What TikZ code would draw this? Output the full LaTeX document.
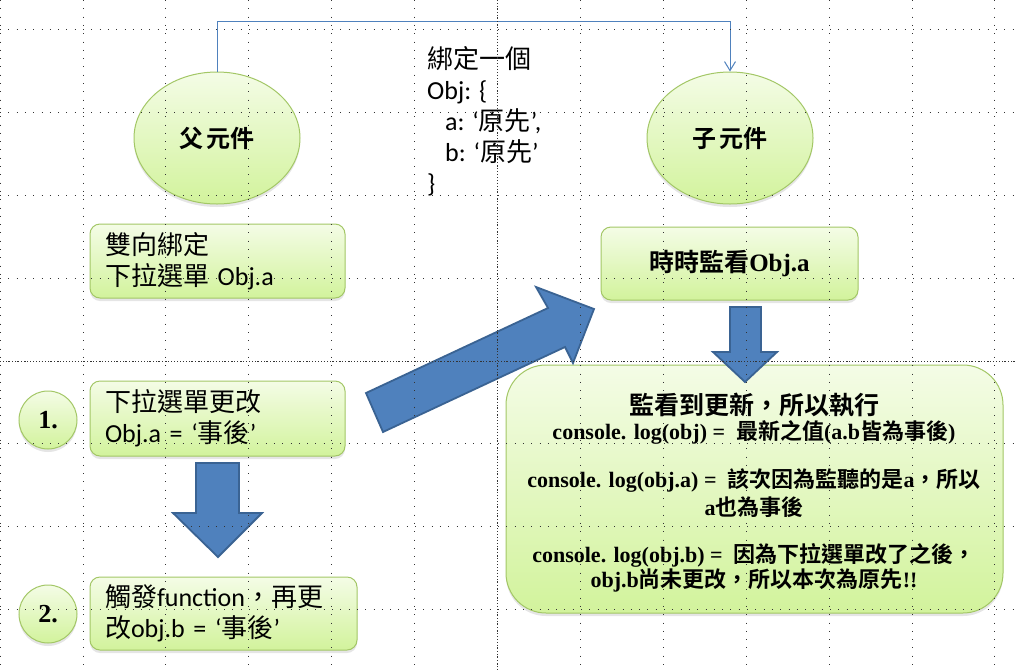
\documentclass[tikz,border=0pt]{standalone}
\usepackage{fontspec}
\setmainfont{Carlito}
\newfontfamily\cjk{Noto Sans CJK TC}
\newfontfamily\cjkb{Noto Sans CJK TC Bold}
\newfontfamily\ser{Liberation Serif}
\usetikzlibrary{shapes.geometric, shadows, arrows.meta}

\definecolor{leaftop}{HTML}{F4FCE6}
\definecolor{leafbot}{HTML}{D2F39C}
\definecolor{leafline}{HTML}{A3C766}
\definecolor{blockblue}{HTML}{4F81BD}
\definecolor{blockedge}{HTML}{3A6393}
\definecolor{gridgray}{HTML}{333333}

\newcommand{\zh}[1]{{\cjk #1}}
\newcommand{\zhb}[1]{{\cjkb #1}}
\newcommand{\en}[1]{{\ser\bfseries #1}}

\tikzset{
  bubble/.style={draw=leafline, line width=1pt, top color=leaftop, bottom color=leafbot,
    drop shadow={shadow xshift=0pt, shadow yshift=-3pt, opacity=0.2}},
  panel/.style={bubble, rounded corners=10pt, align=left, inner xsep=15pt, inner ysep=0pt},
  blockarrow/.style={fill=blockblue, draw=blockedge, line width=1.8pt, line join=miter},
  link/.style={draw=blockblue, line width=1pt, -{Straight Barb[length=9pt,width=11pt]}},
  gridline/.style={gridgray, line width=1pt, dash pattern=on 1pt off 7.3pt},
  gridmid/.style={gridgray, line width=1pt, dash pattern=on 1pt off 2pt},
  body/.style={font=\fontsize{26}{31}\selectfont},
  note/.style={font=\fontsize{22}{24}\selectfont},
}

\begin{document}
\begin{tikzpicture}[x=1pt, y=-1pt]
  \fill[white] (0,0) rectangle (1017,670);
  \useasboundingbox (0,0) rectangle (1017,670);

  % Components
  \node[bubble, ellipse, minimum width=166pt, minimum height=132pt,
    font=\fontsize{24}{28}\selectfont] (parent) at (217,138) {\zhb{父\,元件}};
  \node[bubble, ellipse, minimum width=166pt, minimum height=132pt,
    font=\fontsize{24}{28}\selectfont] (child) at (730,138) {\zhb{子\,元件}};
  \draw[link] (parent.north) -- ++(0,-50) -| (child.north);

  % Bound object
  \node[body, align=left, anchor=west, inner sep=0pt] (bindobj) at (427,121)
    {\zh{綁定一個}\\Obj: \{\\\hspace*{18pt}a: ‘\zh{原先}’,\\\hspace*{18pt}b: ‘\zh{原先}’\\\}};

  % Parent side
  \node[panel, body, text width=225pt, minimum height=74pt] (twoway) at (217.5,261)
    {\zh{雙向綁定}\\\zh{下拉選單} Obj.a};
  \node[bubble, circle, minimum size=58pt, inner sep=0pt,
    font=\ser\bfseries\fontsize{26}{30}\selectfont] (numone) at (48,420) {1.};
  \node[panel, body, text width=225pt, minimum height=75pt] (change) at (217.5,418.5)
    {\zh{下拉選單更改}\\Obj.a = ‘\zh{事後}’};
  \node[bubble, circle, minimum size=58pt, inner sep=0pt,
    font=\ser\bfseries\fontsize{26}{30}\selectfont] (numtwo) at (48,614) {2.};
  \node[panel, body, text width=237pt, minimum height=73pt] (trigger) at (223.5,613.5)
    {\zh{觸發}function\zh{，再更}\\\zh{改}obj.b = ‘\zh{事後}’};

  % Child side
  \node[panel, align=center, minimum width=257pt, minimum height=73pt,
    font=\fontsize{25}{30}\selectfont] (watch) at (729.5,263.5) {\zhb{時時監看}\en{Obj.a}};
  \node[bubble, rounded corners=40pt, minimum width=497pt, minimum height=248pt] (result) at (754.5,489) {};
  \node[font=\fontsize{25}{30}\selectfont] (headline) at (754,405) {\zhb{監看到更新，所以執行}};
  \node[note] (logall) at (754,432) {\en{console. log(obj) =\enspace}\zhb{最新之值}\en{(a.b}\zhb{皆為事後}\en{)}};
  \node[note] (logaone) at (754,481) {\en{console. log(obj.a) =\enspace}\zhb{該次因為監聽的是}\en{a}\zhb{，所以}};
  \node[note] (logatwo) at (754,507) {\en{a}\zhb{也為事後}};
  \node[note] (logbone) at (754,555) {\en{console. log(obj.b) =\enspace}\zhb{因為下拉選單改了之後，}};
  \node[note] (logbtwo) at (754,580) {\en{obj.b}\zhb{尚未更改，所以本次為原先}\en{!!}};

  % Block arrows
  \draw[blockarrow] (196,463) -- (239,463) -- (239,513) -- (262,513) -- (218,557)
    -- (173,513) -- (196,513) -- cycle;
  \draw[blockarrow] (366,393) -- (548,308) -- (536,287) -- (594,309) -- (573,363)
    -- (565,347) -- (383,432) -- cycle;
  \draw[blockarrow] (730,307) -- (761,307) -- (761,352) -- (777,352) -- (745,382)
    -- (713,352) -- (730,352) -- cycle;

  % Guide grid
  \foreach \k in {-6,...,6}
    \draw[gridline] ({497.5+82.9*\k},0) -- ({497.5+82.9*\k},670);
  \foreach \k in {-4,...,3}
    \draw[gridline] (0,{361+82.9*\k}) -- (1017,{361+82.9*\k});
  \draw[gridmid] (497.5,0) -- (497.5,670);
  \draw[gridmid] (0,361) -- (1017,361);
\end{tikzpicture}
\end{document}
